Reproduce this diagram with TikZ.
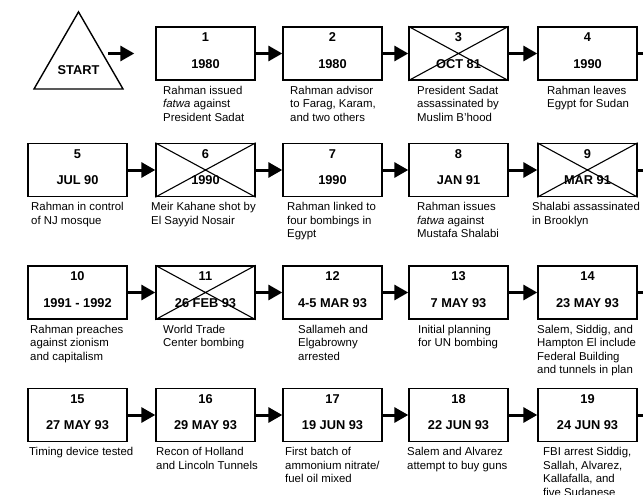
\documentclass[tikz,border=0pt]{standalone}
\usepackage{fontspec}
\setmainfont{Liberation Sans}
\usetikzlibrary{arrows.meta,shapes.geometric}
\tikzset{
  evbox/.style={draw, line width=1.4pt, minimum width=99pt, minimum height=53pt, inner sep=0pt},
  numtxt/.style={font=\fontsize{12.8}{14}\selectfont\bfseries, inner sep=0pt},
  desc/.style={font=\fontsize{11.4}{13.5}\selectfont, align=left, inner sep=0pt, anchor=north west},
  flow/.style={line width=3pt, -{Triangle[length=14pt,width=15pt]}},
  crossln/.style={line width=1.1pt},
  tri/.style={draw, line width=1.4pt, regular polygon, regular polygon sides=3, minimum size=102.8pt, inner sep=0pt}
}
\newcommand\evt[7]{%
  \node[evbox] (#1) at ({#2+49.5},{#3+26.5}) {};
  \node[numtxt] (#1n) at ({#2+49.5},{#3+10.5}) {#4};
  \node[numtxt] (#1d) at ({#2+49.5},{#3+37}) {#5};
  \node[desc] (#1t) at (#6,{#3+59}) {#7};
}
\newcommand\crossit[1]{%
  \draw[crossln] (#1.north west) -- (#1.south east) (#1.north east) -- (#1.south west);
}
\begin{document}
\begin{tikzpicture}[x=1pt,y=-1pt]
\useasboundingbox (0,0) rectangle (643,495);
% start triangle
\node[tri] (start) at (78.5,63.3) {};
\node[font=\fontsize{12.8}{14}\selectfont\bfseries, inner sep=0pt] (startlbl) at (78.5,70) {START};
\coordinate (a0) at (108,53.5);
% row 1
\evt{b1}{156}{27}{1}{1980}{163}{Rahman issued\\\textit{fatwa} against\\President Sadat}
\evt{b2}{283}{27}{2}{1980}{290}{Rahman advisor\\to Farag, Karam,\\and two others}
\evt{b3}{409}{27}{3}{OCT 81}{417}{President Sadat\\assassinated by\\Muslim B'hood}
\evt{b4}{538}{27}{4}{1990}{547}{Rahman leaves\\Egypt for Sudan}
% row 2
\evt{b5}{28}{143.5}{5}{JUL 90}{31}{Rahman in control\\of NJ mosque}
\evt{b6}{156}{143.5}{6}{1990}{151}{Meir Kahane shot by\\El Sayyid Nosair}
\evt{b7}{283}{143.5}{7}{1990}{287}{Rahman linked to\\four bombings in\\Egypt}
\evt{b8}{409}{143.5}{8}{JAN 91}{417}{Rahman issues\\\textit{fatwa} against\\Mustafa Shalabi}
\evt{b9}{538}{143.5}{9}{MAR 91}{532}{Shalabi assassinated\\in Brooklyn}
% row 3
\evt{b10}{28}{266}{10}{1991 - 1992}{30}{Rahman preaches\\against zionism\\and capitalism}
\evt{b11}{156}{266}{11}{26 FEB 93}{163}{World Trade\\Center bombing}
\evt{b12}{283}{266}{12}{4-5 MAR 93}{298}{Sallameh and\\Elgabrowny\\arrested}
\evt{b13}{409}{266}{13}{7 MAY 93}{418}{Initial planning\\for UN bombing}
\evt{b14}{538}{266}{14}{23 MAY 93}{537}{Salem, Siddig, and\\Hampton El include\\Federal Building\\and tunnels in plan}
% row 4
\evt{b15}{28}{388.5}{15}{27 MAY 93}{29}{Timing device tested}
\evt{b16}{156}{388.5}{16}{29 MAY 93}{156}{Recon of Holland\\and Lincoln Tunnels}
\evt{b17}{283}{388.5}{17}{19 JUN 93}{285}{First batch of\\ammonium nitrate/\\fuel oil mixed}
\evt{b18}{409}{388.5}{18}{22 JUN 93}{407}{Salem and Alvarez\\attempt to buy guns}
\evt{b19}{538}{388.5}{19}{24 JUN 93}{543}{FBI arrest Siddig,\\Sallah, Alvarez,\\Kallafalla, and\\five Sudanese}
% crossed-out events
\crossit{b3}
\crossit{b6}
\crossit{b9}
\crossit{b11}
% outgoing ends
\coordinate (e1) at (672,53.5);
\coordinate (e2) at (672,170);
\coordinate (e3) at (672,292.5);
\coordinate (e4) at (672,415);
% arrows
\draw[flow, shorten >=21pt] (a0) -- (b1);
\draw[flow] (b1) -- (b2);
\draw[flow] (b2) -- (b3);
\draw[flow] (b3) -- (b4);
\draw[flow] (b4) -- (e1);
\draw[flow] (b5) -- (b6);
\draw[flow] (b6) -- (b7);
\draw[flow] (b7) -- (b8);
\draw[flow] (b8) -- (b9);
\draw[flow] (b9) -- (e2);
\draw[flow] (b10) -- (b11);
\draw[flow] (b11) -- (b12);
\draw[flow] (b12) -- (b13);
\draw[flow] (b13) -- (b14);
\draw[flow] (b14) -- (e3);
\draw[flow] (b15) -- (b16);
\draw[flow] (b16) -- (b17);
\draw[flow] (b17) -- (b18);
\draw[flow] (b18) -- (b19);
\draw[flow] (b19) -- (e4);
\end{tikzpicture}
\end{document}
